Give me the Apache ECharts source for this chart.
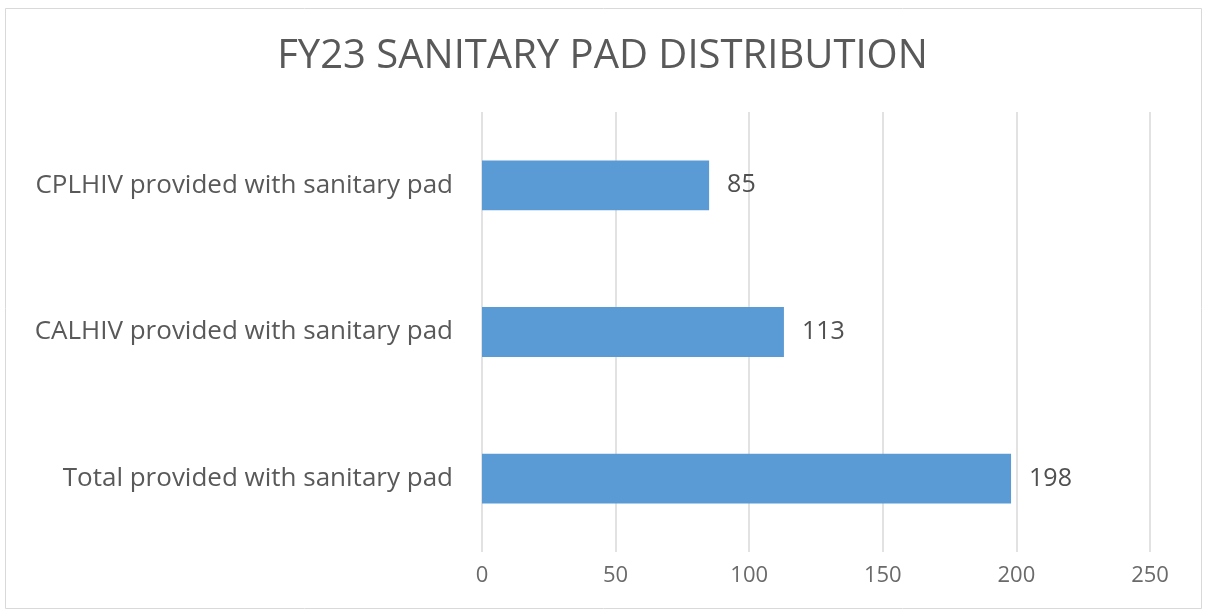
<!DOCTYPE html>
<html>
<head>
<meta charset="utf-8">
<script src="https://cdn.jsdelivr.net/npm/echarts@6/dist/echarts.min.js"></script>
<style>
  html, body { margin: 0; padding: 0; background: #fff; }
  #chart { width: 1205px; height: 612px; }
</style>
</head>
<body>
<div id="chart"></div>
<script>
// categories listed bottom to top (category axis on y runs upward)
const categories = [
    'Total provided with sanitary pad',
    'CALHIV provided with sanitary pad',
    'CPLHIV provided with sanitary pad'
];
const values = [198, 113, 85];
const xTicks = [0, 50, 100, 150, 200, 250];

const chart = echarts.init(document.getElementById('chart'));

let option = {
    backgroundColor: '#fff',
    animation: false,
    textStyle: { fontFamily: 'Open Sans' },
    graphic: [{
        type: 'rect',
        shape: { x: 5.5, y: 8.5, width: 1196, height: 600 },
        style: { fill: 'none', stroke: '#d9d9d9', lineWidth: 1 }
    }],
    title: {
        text: 'FY23 SANITARY PAD DISTRIBUTION',
        left: 'center',
        top: 32,
        textStyle: {
            fontFamily: 'Open Sans',
            fontSize: 40,
            fontWeight: 'normal',
            color: '#595959'
        }
    },
    grid: {
        left: 482,
        right: 55,
        top: 112,
        bottom: 60
    },
    xAxis: {
        type: 'value',
        min: xTicks[0],
        max: xTicks[xTicks.length - 1],
        interval: 50,
        axisLine: { show: false },
        axisTick: { show: false },
        axisLabel: {
            margin: 13,
            fontSize: 22,
            color: '#6a6a6a'
        },
        splitLine: { lineStyle: { color: '#d9d9d9', width: 1.5 } }
    },
    yAxis: {
        type: 'category',
        data: categories,
        axisLine: { show: false },
        axisTick: { show: false },
        axisLabel: {
            margin: 29,
            fontSize: 26,
            color: '#595959'
        }
    },
    series: [{
        type: 'bar',
        data: values,
        barWidth: '34%',
        itemStyle: { color: '#5b9bd5' },
        label: {
            show: true,
            position: 'right',
            distance: 18,
            fontSize: 25,
            color: '#505050'
        }
    }]
};

chart.setOption(option);
</script>
</body>
</html>
